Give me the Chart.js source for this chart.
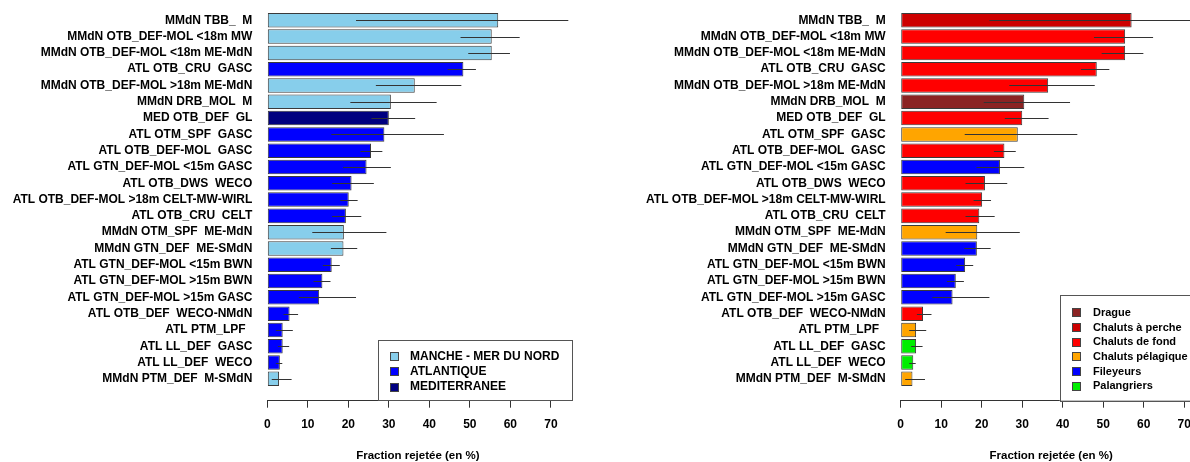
<!DOCTYPE html>
<html>
<head>
<meta charset="utf-8">
<script src="https://cdn.jsdelivr.net/npm/chart.js@4/dist/chart.umd.min.js"></script>
<style>
  html, body { margin: 0; padding: 0; background: #fff; overflow: hidden; width: 1190px; height: 462px; }
  canvas { position: absolute; top: 0; }
  #left { left: 0; }
  #right { left: 595px; }
</style>
</head>
<body>
<canvas id="left" width="595" height="462"></canvas>
<canvas id="right" width="612" height="462"></canvas>
<script>
// Métiers (flottille), sorted by decreasing discard fraction
const metiers = [
  'MMdN TBB_  M',
  'MMdN OTB_DEF-MOL <18m MW',
  'MMdN OTB_DEF-MOL <18m ME-MdN',
  'ATL OTB_CRU  GASC',
  'MMdN OTB_DEF-MOL >18m ME-MdN',
  'MMdN DRB_MOL  M',
  'MED OTB_DEF  GL',
  'ATL OTM_SPF  GASC',
  'ATL OTB_DEF-MOL  GASC',
  'ATL GTN_DEF-MOL <15m GASC',
  'ATL OTB_DWS  WECO',
  'ATL OTB_DEF-MOL >18m CELT-MW-WIRL',
  'ATL OTB_CRU  CELT',
  'MMdN OTM_SPF  ME-MdN',
  'MMdN GTN_DEF  ME-SMdN',
  'ATL GTN_DEF-MOL <15m BWN',
  'ATL GTN_DEF-MOL >15m BWN',
  'ATL GTN_DEF-MOL >15m GASC',
  'ATL OTB_DEF  WECO-NMdN',
  'ATL PTM_LPF  ',
  'ATL LL_DEF  GASC',
  'ATL LL_DEF  WECO',
  'MMdN PTM_DEF  M-SMdN'
];

// Fraction rejetée (%) and its interval
const fraction = [57.0, 55.4, 55.4, 48.4, 36.4, 30.5, 30.0, 28.9, 25.6, 24.5, 20.8, 20.1,
                  19.4, 18.9, 18.8, 15.9, 13.6, 12.8, 5.5, 3.8, 3.8, 3.1, 2.9];
const lower    = [21.9, 47.7, 49.6, 44.5, 26.8, 20.5, 25.7, 15.8, 23.0, 18.7, 16.0, 18.0,
                  16.0, 11.1, 15.7, 13.7, 11.4, 7.8, 4.0, 2.1, 2.6, 2.1, 1.1];
const upper    = [76.0, 62.3, 59.9, 51.5, 47.9, 41.8, 36.5, 43.6, 28.4, 30.5, 26.3, 22.3,
                  23.2, 29.4, 22.2, 17.9, 15.6, 21.9, 7.6, 6.3, 5.4, 3.7, 6.0];

// Façade of each métier
const facade = ['MMdN', 'MMdN', 'MMdN', 'ATL', 'MMdN', 'MMdN', 'MED', 'ATL', 'ATL', 'ATL', 'ATL', 'ATL',
                'ATL', 'MMdN', 'MMdN', 'ATL', 'ATL', 'ATL', 'ATL', 'ATL', 'ATL', 'ATL', 'MMdN'];
// Gear group of each métier
const engin = ['perche', 'fond', 'fond', 'fond', 'fond', 'drague', 'fond', 'pelagique', 'fond', 'fileyeur',
               'fond', 'fond', 'fond', 'pelagique', 'fileyeur', 'fileyeur', 'fileyeur', 'fileyeur', 'fond',
               'pelagique', 'palangre', 'palangre', 'pelagique'];

const facadeKeys   = ['MMdN', 'ATL', 'MED'];
const facadeLabels = ['MANCHE - MER DU NORD', 'ATLANTIQUE', 'MEDITERRANEE'];
const enginKeys    = ['drague', 'perche', 'fond', 'pelagique', 'fileyeur', 'palangre'];
const enginLabels  = ['Drague', 'Chaluts à perche', 'Chaluts de fond', 'Chaluts pélagique', 'Fileyeurs', 'Palangriers'];

const xTicks = [0, 10, 20, 30, 40, 50, 60, 70];
const xTitle = 'Fraction rejetée (en %)';

// ---- styles ----
const facadeColors = { MMdN: '#87CEEB', ATL: '#0000FF', MED: '#000080' };
const enginColors  = { drague: '#8B2323', perche: '#CD0000', fond: '#FF0000',
                       pelagique: '#FFA500', fileyeur: '#0000FF', palangre: '#00EE00' };
const FONT = "'Liberation Sans', Arial, Helvetica, sans-serif";
const INK = '#000';
const LINE = '#333';

// Interval segments drawn across each bar
const intervalPlugin = {
  id: 'intervals',
  afterDatasetsDraw(chart) {
    const { ctx, chartArea: a, scales: { x, y } } = chart;
    ctx.save();
    ctx.beginPath();
    ctx.rect(a.left, a.top, a.right - a.left, a.bottom - a.top);
    ctx.clip();
    ctx.strokeStyle = LINE;
    ctx.lineWidth = 1;
    ctx.beginPath();
    metiers.forEach((_, i) => {
      const py = Math.round(y.getPixelForValue(i)) + 0.5;
      ctx.moveTo(x.getPixelForValue(lower[i]), py);
      ctx.lineTo(x.getPixelForValue(upper[i]), py);
    });
    ctx.stroke();
    ctx.restore();
  }
};

// Framed key in the bottom-right corner of the plot area
const boxLegendPlugin = {
  id: 'boxLegend',
  afterDraw(chart, args, opts) {
    const { ctx, chartArea: a } = chart;
    ctx.save();
    ctx.font = `bold ${opts.fontSize}px ${FONT}`;
    const maxW = Math.max(...opts.labels.map(t => ctx.measureText(t).width));
    const boxW = opts.textIndent + maxW + opts.padRight;
    const rowH = opts.rowHeight;
    const n = opts.labels.length;
    const boxH = n * rowH + opts.padTop + opts.padBottom;
    const left = a.right - boxW;
    const bottom = a.bottom;
    const top = bottom - boxH;
    ctx.fillStyle = '#fff';
    ctx.fillRect(left, top, boxW, boxH);
    ctx.strokeStyle = '#555';
    ctx.lineWidth = 1;
    ctx.strokeRect(Math.round(left) + 0.5, Math.round(top) + 0.5, Math.round(boxW) + 4, Math.round(boxH));
    ctx.textBaseline = 'middle';
    ctx.textAlign = 'left';
    opts.labels.forEach((t, i) => {
      const cy = top + opts.padTop + rowH * (i + 0.5);
      const sx = Math.round(left + 16.5 - 4) + 0.5;
      const sy = Math.round(cy - 4) + 0.5;
      ctx.fillStyle = opts.colors[i];
      ctx.fillRect(sx, sy, 8, 8);
      ctx.strokeStyle = '#444';
      ctx.strokeRect(sx, sy, 8, 8);
      ctx.fillStyle = INK;
      ctx.fillText(t, left + opts.textIndent, cy + 0.5);
    });
    ctx.restore();
  }
};

function buildChart(canvasId, barColors, yAxisWidth, rightPad, legend) {
  const points = fraction.map((v, i) => ({ x: v, y: i }));
  return new Chart(document.getElementById(canvasId), {
    type: 'bar',
    data: {
      datasets: [{
        data: points,
        backgroundColor: barColors,
        borderColor: '#3a3a3a',
        borderWidth: 1,
        borderSkipped: false,
        categoryPercentage: 1,
        barPercentage: 0.89
      }]
    },
    options: {
      indexAxis: 'y',
      responsive: false,
      animation: false,
      devicePixelRatio: 1,
      layout: { padding: { left: 0, right: rightPad, top: 0, bottom: 0 } },
      plugins: {
        legend: { display: false },
        tooltip: { enabled: false },
        boxLegend: legend
      },
      scales: {
        y: {
          type: 'linear',
          reverse: true,
          offset: false,
          bounds: 'data',
          min: -1.245,
          max: 23.34,
          grid: { display: false, drawTicks: false, offset: false },
          border: { display: false },
          ticks: {
            autoSkip: false,
            padding: 15,
            color: INK,
            font: { family: FONT, size: 12, weight: 'bold' },
            callback: v => metiers[v]
          },
          afterBuildTicks: s => { s.ticks = metiers.map((_, i) => ({ value: i })); },
          afterFit: s => { s.width = yAxisWidth; s.paddingTop = 0; s.paddingBottom = 0; }
        },
        x: {
          type: 'linear',
          min: 0,
          max: 74.3,
          bounds: 'data',
          offset: false,
          grid: { drawOnChartArea: false, drawTicks: true, tickLength: 7, color: LINE },
          border: { display: true, color: LINE, width: 1 },
          ticks: {
            includeBounds: false,
            stepSize: 10,
            padding: 10,
            color: INK,
            font: { family: FONT, size: 12, weight: 'bold' }
          },
          afterBuildTicks: s => { s.ticks = xTicks.map(v => ({ value: v })); },
          title: {
            display: true,
            text: xTitle,
            color: INK,
            padding: 0,
            font: { family: FONT, size: 11.5, weight: 'bold', lineHeight: 1 }
          },
          afterFit: s => { s.height = 61.3; s.paddingLeft = 0; s.paddingRight = 0; }
        }
      }
    },
    plugins: [intervalPlugin, boxLegendPlugin]
  });
}

buildChart('left', facade.map(f => facadeColors[f]), 267.3, 26.7, {
  labels: facadeLabels,
  colors: facadeKeys.map(k => facadeColors[k]),
  fontSize: 12, rowHeight: 15.3, textIndent: 32, padRight: 9, padTop: 8, padBottom: 6.5
});

buildChart('right', engin.map(g => enginColors[g]), 305.7, 5.3, {
  labels: enginLabels,
  colors: enginKeys.map(k => enginColors[k]),
  fontSize: 11, rowHeight: 14.7, textIndent: 33.3, padRight: 14, padTop: 10, padBottom: 7.5
});
</script>
</body>
</html>
